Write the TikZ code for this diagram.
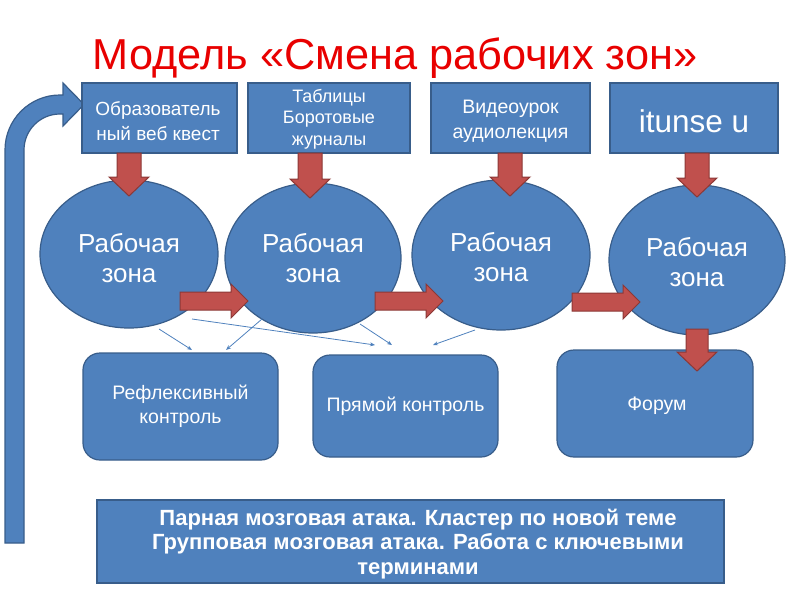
\documentclass[tikz,border=0pt]{standalone}
\usepackage{fontspec}
\setmainfont{Liberation Sans}
\newfontfamily\arialf{Liberation Sans}
\usetikzlibrary{shapes.geometric,arrows.meta}
\definecolor{bfill}{HTML}{4F81BD}
\definecolor{bline}{HTML}{385D8A}
\definecolor{rfill}{HTML}{C0504D}
\definecolor{rline}{HTML}{8C3836}
\definecolor{ttl}{HTML}{E80000}
% down block arrow: x, ytop, ytip, shaft half width
\newcommand{\dnarr}[4]{\draw[blockarrow] (#1-#4,#2) -- (#1+#4,#2) -- (#1+#4,#3-19) -- (#1+20,#3-19) -- (#1,#3) -- (#1-20,#3-19) -- (#1-#4,#3-19) -- cycle;}
% right block arrow: x start, x tip, y
\newcommand{\rtarr}[3]{\draw[blockarrow] (#1,#3-9) -- (#2-17,#3-9) -- (#2-17,#3-17) -- (#2,#3) -- (#2-17,#3+17) -- (#2-17,#3+9) -- (#1,#3+9) -- cycle;}
\begin{document}
\begin{tikzpicture}[x=1pt,y=-1pt,
 topbox/.style={draw=bline, fill=bfill, line width=1.2pt, text=white, align=center, minimum height=70pt, inner sep=2pt},
 zone/.style={ellipse, draw=bline, fill=bfill, line width=1.2pt, inner sep=0pt},
 zonetext/.style={text=white, align=center, font=\fontsize{26}{30.5}\selectfont},
 ctrl/.style={draw=bline, fill=bfill, rounded corners=17pt, line width=1.2pt, text=white, align=center, font=\fontsize{19.5}{24}\selectfont},
 blockarrow/.style={draw=rline, fill=rfill, line width=1pt},
 bentarrow/.style={draw=bline, fill=bfill, line width=1.2pt},
 fineconn/.style={draw=bfill, line width=0.8pt, -{Stealth[length=5pt,width=4pt]}},
]
\useasboundingbox (0,0) rectangle (800,600);

\node[text=ttl, font=\arialf\fontsize{43.3}{50}\selectfont, anchor=base] (title) at (395,69) {Модель «Смена рабочих зон»};

% bent arrow on the left
\draw[bentarrow] (5,543) -- (5,150) .. controls (5,119.6) and (29.6,95) .. (60,95) -- (63,95) -- (63,83) -- (84,104.5) -- (63,126) -- (63,114) -- (60,114) .. controls (40.1,114) and (24,130.1) .. (24,150) -- (24,543) -- cycle;

% top boxes
\node[topbox, minimum width=155pt] (b1) at (159.5,118) {};
\node[text=white, align=center, font=\fontsize{19}{25}\selectfont] (t1) at (158,121) {Образователь\\ный веб квест};
\node[topbox, minimum width=162pt] (b2) at (329,118) {};
\node[text=white, align=center, font=\fontsize{18}{21.5}\selectfont] (t2) at (329,119) {Таблицы\\Боротовые\\журналы};
\node[topbox, minimum width=159pt] (b3) at (510.5,118) {};
\node[text=white, align=center, font=\fontsize{19.5}{25}\selectfont] (t3) at (510.5,121) {Видеоурок\\аудиолекция};
\node[topbox, minimum width=168pt] (b4) at (694,118) {};
\node[text=white, font=\fontsize{31.5}{36}\selectfont] (t4) at (694,121) {itunse u};

% zones
\node[zone, minimum width=178pt, minimum height=148pt] (c1) at (129,254) {};
\node[zone, minimum width=176pt, minimum height=150pt] (c2) at (313,258) {};
\node[zone, minimum width=178pt, minimum height=150pt] (c3) at (501,255) {};
\node[zone, minimum width=176pt, minimum height=150pt] (c4) at (697,260) {};
\node[zonetext] (z1) at (129,258) {Рабочая\\зона};
\node[zonetext] (z2) at (313,258) {Рабочая\\зона};
\node[zonetext] (z3) at (501,257) {Рабочая\\зона};
\node[zonetext] (z4) at (697,262) {Рабочая\\зона};

% down arrows from top boxes
\dnarr{129}{153}{196}{12}
\dnarr{310}{153}{198}{12}
\dnarr{510}{153}{196}{12}
\dnarr{697}{153}{197}{12}

% right arrows between zones
\rtarr{180}{248}{301}
\rtarr{375}{443}{301}
\rtarr{572}{640}{302}

% bottom boxes
\node[ctrl, minimum width=195pt, minimum height=107pt] (k1) at (180.5,406.5) {Рефлексивный\\контроль};
\node[ctrl, minimum width=185pt, minimum height=102pt] (k2) at (405.5,406) {Прямой контроль};
\node[ctrl, minimum width=196pt, minimum height=107pt] (k3) at (655,403.5) {};
\node[text=white, font=\fontsize{19.5}{24}\selectfont] (k3t) at (657,406) {Форум};

\dnarr{697}{329}{371}{11}

% thin connectors
\coordinate (a1s) at (159,329); \coordinate (a1e) at (192,350);
\coordinate (a2s) at (262,319); \coordinate (a2e) at (226,350);
\coordinate (a3s) at (192,319); \coordinate (a3e) at (375,345);
\coordinate (a4s) at (360,324); \coordinate (a4e) at (392,345);
\coordinate (a5s) at (475,330); \coordinate (a5e) at (433,345);
\draw[fineconn] (a1s) -- (a1e);
\draw[fineconn] (a2s) -- (a2e);
\draw[fineconn] (a3s) -- (a3e);
\draw[fineconn] (a4s) -- (a4e);
\draw[fineconn] (a5s) -- (a5e);

% bottom box
\node[draw=bline, fill=bfill, line width=1.2pt, minimum width=627pt, minimum height=83pt] (bot) at (410.5,541.5) {};
\node[text=white, align=center, font=\arialf\bfseries\fontsize{22}{24.5}\selectfont] (bott) at (418,544) {Парная мозговая атака. Кластер по новой теме\\Групповая мозговая атака. Работа с ключевыми\\терминами};
\end{tikzpicture}
\end{document}
